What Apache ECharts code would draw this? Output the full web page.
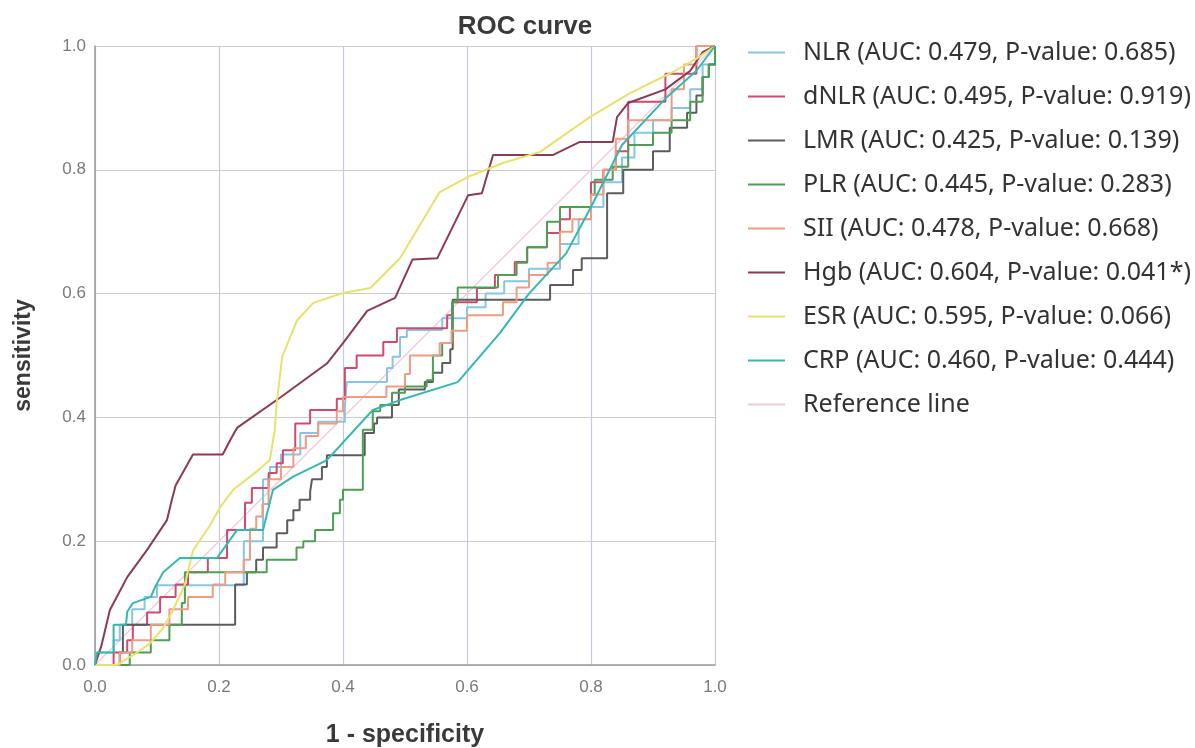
<!DOCTYPE html>
<html>
<head>
<meta charset="utf-8">
<title>ROC curve</title>
<script src="https://cdn.jsdelivr.net/npm/echarts@6/dist/echarts.min.js"></script>
<style>
  html, body { margin: 0; padding: 0; background: #fff; }
  #chart { width: 1195px; height: 748px; }
</style>
</head>
<body>
<div id="chart"></div>
<script>
// axis ticks (both axes)
const ticks = [0, 0.2, 0.4, 0.6, 0.8, 1.0];

// legend labels
const names = [
  'NLR (AUC: 0.479, P-value: 0.685)',
  'dNLR (AUC: 0.495, P-value: 0.919)',
  'LMR (AUC: 0.425, P-value: 0.139)',
  'PLR (AUC: 0.445, P-value: 0.283)',
  'SII (AUC: 0.478, P-value: 0.668)',
  'Hgb (AUC: 0.604, P-value: 0.041*)',
  'ESR (AUC: 0.595, P-value: 0.066)',
  'CRP (AUC: 0.460, P-value: 0.444)',
  'Reference line'
];

// [1 - specificity, sensitivity]  (stair curves: at x the curve jumps to y)
const nlr = [[0,0],[0.003,0.02],[0.03,0.04],[0.04,0.065],[0.06,0.09],[0.08,0.11],[0.1,0.129],
  [0.24,0.2],[0.271,0.3],[0.282,0.32],[0.3,0.34],[0.331,0.375],[0.36,0.393],[0.403,0.417],
  [0.406,0.457],[0.471,0.48],[0.48,0.498],[0.492,0.53],[0.503,0.541],[0.56,0.56],[0.6,0.578],
  [0.63,0.6],[0.66,0.62],[0.7,0.64],[0.75,0.68],[0.78,0.72],[0.8,0.74],[0.82,0.78],[0.85,0.82],
  [0.87,0.86],[0.9,0.88],[0.93,0.9],[0.96,0.93],[0.98,0.97],[1,1]];

const dnlr = [[0,0],[0.03,0.02],[0.052,0.04],[0.061,0.065],[0.084,0.085],[0.105,0.11],[0.13,0.13],
  [0.15,0.15],[0.182,0.173],[0.213,0.218],[0.242,0.262],[0.253,0.286],[0.28,0.31],[0.293,0.326],
  [0.303,0.347],[0.323,0.39],[0.347,0.412],[0.39,0.43],[0.403,0.48],[0.422,0.5],[0.465,0.522],
  [0.487,0.544],[0.568,0.565],[0.576,0.586],[0.616,0.609],[0.645,0.63],[0.677,0.651],[0.697,0.675],
  [0.729,0.698],[0.75,0.72],[0.766,0.74],[0.8,0.78],[0.82,0.8],[0.84,0.83],[0.86,0.91],
  [0.92,0.955],[0.97,1.0],[1,1]];

const lmr = [[0,0],[0.04,0.02],[0.045,0.065],[0.226,0.13],[0.245,0.15],[0.26,0.17],[0.271,0.19],
  [0.293,0.213],[0.31,0.234],[0.32,0.25],[0.33,0.267],[0.347,0.28],[0.35,0.3],[0.366,0.32],
  [0.374,0.339],[0.435,0.375],[0.45,0.39],[0.455,0.4],[0.479,0.42],[0.49,0.445],[0.532,0.457],
  [0.545,0.472],[0.56,0.488],[0.573,0.51],[0.577,0.59],[0.734,0.614],[0.771,0.638],[0.785,0.657],
  [0.826,0.762],[0.852,0.8],[0.9,0.83],[0.927,0.868],[0.955,0.892],[0.97,0.92],[0.98,0.95],
  [0.99,0.97],[1,1]];

const plr = [[0,0],[0.056,0.02],[0.09,0.04],[0.12,0.065],[0.14,0.1],[0.145,0.15],[0.277,0.17],
  [0.325,0.19],[0.336,0.2],[0.355,0.218],[0.384,0.245],[0.395,0.267],[0.4,0.283],[0.432,0.38],
  [0.448,0.41],[0.46,0.42],[0.479,0.44],[0.5,0.45],[0.535,0.46],[0.545,0.5],[0.56,0.52],
  [0.576,0.586],[0.585,0.61],[0.65,0.63],[0.68,0.65],[0.697,0.675],[0.729,0.716],[0.75,0.74],
  [0.8,0.76],[0.806,0.784],[0.835,0.805],[0.86,0.84],[0.9,0.86],[0.93,0.88],[0.96,0.91],
  [0.98,0.95],[0.99,0.97],[1,1]];

const sii = [[0,0],[0.04,0.02],[0.06,0.04],[0.09,0.065],[0.12,0.09],[0.15,0.11],[0.19,0.13],
  [0.21,0.15],[0.24,0.17],[0.25,0.22],[0.26,0.24],[0.27,0.26],[0.28,0.3],[0.3,0.32],[0.32,0.35],
  [0.34,0.37],[0.36,0.39],[0.39,0.41],[0.4,0.433],[0.47,0.45],[0.5,0.47],[0.508,0.5],[0.556,0.52],
  [0.575,0.54],[0.6,0.565],[0.658,0.586],[0.68,0.61],[0.7,0.63],[0.73,0.65],[0.75,0.7],
  [0.77,0.72],[0.8,0.76],[0.82,0.8],[0.84,0.85],[0.86,0.88],[0.93,0.93],[0.95,0.97],
  [0.97,1.0],[1,1]];

// smooth-looking curves: plain polylines
const hgb = [[0,0],[0.01,0.03],[0.024,0.089],[0.052,0.142],[0.084,0.186],[0.116,0.234],
  [0.124,0.267],[0.13,0.29],[0.158,0.34],[0.206,0.34],[0.218,0.363],[0.229,0.383],[0.3,0.433],
  [0.374,0.487],[0.4,0.52],[0.439,0.572],[0.484,0.593],[0.512,0.655],[0.552,0.657],[0.602,0.759],
  [0.624,0.762],[0.642,0.824],[0.739,0.824],[0.782,0.845],[0.835,0.845],[0.842,0.885],
  [0.86,0.908],[0.92,0.93],[0.96,0.96],[0.98,0.99],[1,1]];

const esr = [[0,0],[0.035,0],[0.06,0.015],[0.089,0.035],[0.11,0.06],[0.126,0.089],[0.145,0.13],
  [0.158,0.185],[0.185,0.225],[0.202,0.255],[0.223,0.283],[0.26,0.312],[0.282,0.331],[0.29,0.38],
  [0.293,0.423],[0.302,0.498],[0.326,0.557],[0.352,0.585],[0.4,0.601],[0.444,0.609],[0.492,0.657],
  [0.556,0.764],[0.605,0.79],[0.658,0.811],[0.718,0.829],[0.798,0.885],[0.863,0.924],
  [0.932,0.958],[0.971,0.98],[1,1]];

const crp = [[0,0],[0.003,0.02],[0.03,0.02],[0.03,0.065],[0.05,0.065],[0.052,0.086],[0.061,0.1],
  [0.09,0.11],[0.097,0.126],[0.11,0.15],[0.137,0.173],[0.197,0.173],[0.229,0.218],[0.271,0.218],
  [0.287,0.283],[0.319,0.304],[0.374,0.331],[0.448,0.412],[0.492,0.428],[0.585,0.457],
  [0.653,0.536],[0.7,0.6],[0.76,0.665],[0.8,0.74],[0.85,0.84],[0.92,0.915],[0.97,0.96],[1,1]];

const refLine = [[0,0],[1,1]];

const colors = ['#86C6E4', '#CF4A6E', '#5C5C5C', '#4E9E55', '#EE9C84',
  '#8A3A58', '#E6E26A', '#35B8B0', '#F4C8DC'];

function curve(i, data, step, width) {
  return {
    name: names[i],
    type: 'line',
    data: data,
    step: step,
    symbol: 'none',
    z: i === 8 ? 1 : 2 + i,
    itemStyle: { color: colors[i] },
    lineStyle: { color: colors[i], width: width }
  };
}

const chart = echarts.init(document.getElementById('chart'));
chart.setOption({
  backgroundColor: '#fff',
  animation: false,
  title: {
    text: 'ROC curve',
    left: 525,
    top: 14,
    padding: 0,
    textAlign: 'center',
    textStyle: { fontFamily: 'Liberation Sans', fontSize: 26, fontWeight: 'bold', color: '#3a3a3a' }
  },
  grid: { left: 95, top: 46, width: 620, height: 619, outerBoundsMode: 'none' },
  legend: {
    orient: 'vertical',
    left: 748,
    top: 40,
    padding: 0,
    icon: 'rect',
    itemWidth: 37,
    itemHeight: 2,
    itemGap: 19,
    data: names,
    textStyle: {
      fontFamily: 'Noto Sans',
      fontSize: 25,
      lineHeight: 25,
      color: '#333',
      padding: [0, 0, 0, 13]
    }
  },
  xAxis: {
    type: 'value',
    min: 0,
    max: 1,
    interval: 0.2,
    name: '1 - specificity',
    nameLocation: 'middle',
    nameGap: 58,
    nameTextStyle: { fontFamily: 'Liberation Sans', fontSize: 25, fontWeight: 'bold', color: '#3a3a3a' },
    axisLine: { lineStyle: { color: '#9a9a9a', width: 1.5 } },
    axisTick: { show: false },
    axisLabel: {
      margin: 14,
      fontFamily: 'Liberation Sans',
      fontSize: 17,
      color: '#7a7a7a',
      formatter: v => v.toFixed(1)
    },
    splitLine: { show: true, lineStyle: { color: '#C3CCDB', width: 1.2 } }
  },
  yAxis: {
    type: 'value',
    min: 0,
    max: 1,
    interval: 0.2,
    name: 'sensitivity',
    nameLocation: 'middle',
    nameGap: 60,
    nameRotate: 90,
    nameTextStyle: { fontFamily: 'Liberation Sans', fontSize: 23, fontWeight: 'bold', color: '#3a3a3a' },
    axisLine: { show: true, lineStyle: { color: '#9a9a9a', width: 1.5 } },
    axisTick: { show: false },
    axisLabel: {
      margin: 9,
      fontFamily: 'Liberation Sans',
      fontSize: 17,
      color: '#7a7a7a',
      formatter: v => v.toFixed(1)
    },
    splitLine: { show: true, lineStyle: { color: '#CCCCCC', width: 1.2 } }
  },
  series: [
    curve(8, refLine, false, 1.3),
    curve(0, nlr, 'end', 2),
    curve(1, dnlr, 'end', 2),
    curve(2, lmr, 'end', 2),
    curve(3, plr, 'end', 2),
    curve(4, sii, 'end', 2),
    curve(5, hgb, false, 2),
    curve(6, esr, false, 2),
    curve(7, crp, false, 2)
  ]
});
</script>
</body>
</html>
